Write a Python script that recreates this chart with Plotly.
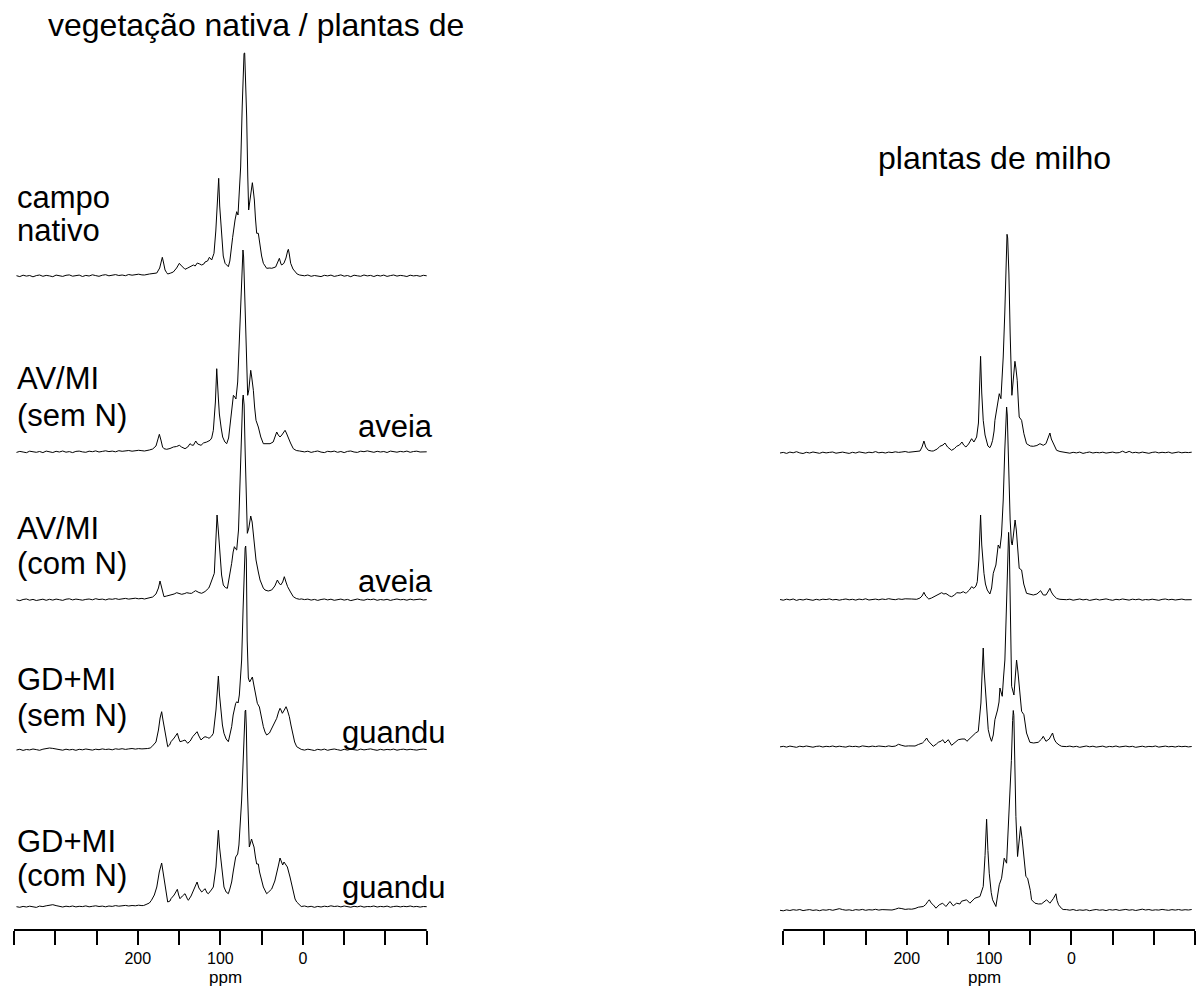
import plotly.graph_objects as go

FIG_W, FIG_H = 1202, 992
FONT = "Liberation Sans, Arial, Helvetica, sans-serif"

# ---------------- data (ppm, intensity, px units) ----------------
L_HEAD_PPM = [347, 343, 339, 335, 331, 327, 323, 319, 315, 311, 307, 303, 299, 295,
              291, 287, 283, 279, 275, 271, 267, 263, 259, 255, 251, 247, 243, 239,
              235, 231, 227, 223, 219, 215, 211, 207, 203, 199, 195]
L_TAIL_PPM = [2, -2, -6, -10, -14, -18, -22, -26, -30, -34, -38, -42, -46, -50,
              -54, -58, -62, -66, -70, -74, -78, -82, -86, -90, -94, -98, -102, -106,
              -110, -114, -118, -122, -126, -130, -134, -138, -142, -146, -150]
R_HEAD_PPM = [354, 350, 346, 342, 338, 334, 330, 326, 322, 318, 314, 310, 306, 302,
              298, 294, 290, 286, 282, 278, 274, 270, 266, 262, 258, 254, 250, 246,
              242, 238, 234, 230, 226, 222, 218, 214, 210, 206, 202, 198, 194]
R_TAIL_PPM = [6, 2, -2, -6, -10, -14, -18, -22, -26, -30, -34, -38, -42, -46,
              -50, -54, -58, -62, -66, -70, -74, -78, -82, -86, -90, -94, -98, -102,
              -106, -110, -114, -118, -122, -126, -130, -134, -138, -142, -146]

# left panel: vegetação nativa / plantas de ...
L1_HEAD = [0.3, -0.6, 0.8, -0.1, 0.5, -0.8, 0.4, 1.0, -0.3, 0.6,
           0.1, -0.7, 0.9, 0.2, -0.4, 0.7, 1.1, -0.2, 0.3, 0.9,
           -0.5, 0.6, 0.0, 1.2, 0.4, -0.3, 0.8, 1.3, 0.2, 0.7,
           1.4, 0.5, 1.0, 0.3, 1.5, 0.8, 1.2, 1.8, 1.1]
L1_PEAKS = [(192, 1), (186, 2), (183, 2.5), (177, 3), (173.5, 8), (171.5, 15), (170.3, 18.7),
            (169, 14), (167, 6), (165, 3.3), (163.8, 2), (160, 3), (157, 4), (153, 8),
            (151.5, 11), (149.7, 12.7), (148, 11), (145.6, 9), (142.8, 6.7), (139.5, 8),
            (136.8, 9), (132.7, 11), (130.5, 10), (127.9, 13), (125, 12), (122.6, 11),
            (120, 12), (118.6, 14), (115.5, 15), (113.3, 18.7), (110.5, 16), (107.7, 22.7),
            (105.5, 45), (103.5, 85), (102, 97.7), (100.8, 70), (98.4, 36), (96.5, 20),
            (94.3, 12.7), (92, 10), (90.3, 9.3), (88.5, 15), (87.5, 22.7), (85.1, 38.7),
            (82.2, 56), (80.2, 64.3), (78.6, 61), (77, 80), (75.4, 109), (73.5, 170),
            (72, 215), (71.3, 222.7), (70.5, 223), (69.5, 200), (68.1, 159), (66.8, 100),
            (65.7, 66), (64.1, 76), (62.5, 88), (61.2, 93.3), (60, 85), (58.8, 76),
            (57.5, 58), (56, 42.7), (54, 42.7), (52, 29), (50, 20), (47.9, 12.7),
            (43.9, 7.7), (40, 8), (37.8, 7.7), (33, 9), (30.5, 14), (28.5, 17.7),
            (26.5, 12), (25.7, 11), (23, 12.7), (20.5, 18), (18.5, 25), (17.6, 26.7),
            (16.5, 22), (14.8, 12.7), (12, 7), (9.5, 4.3), (7, 2), (4, 1)]
L1_TAIL = [0.9, 0.2, 1.0, -0.3, 0.5, 0.0, -0.6, 0.7, 0.1, 0.9,
           -0.4, 0.3, 1.1, -0.2, 0.5, -0.7, 0.8, 0.2, -0.3, 1.0,
           0.1, 0.6, -0.5, 0.7, 0.0, 0.9, -0.4, 0.4, 1.0, -0.1,
           0.6, 0.2, -0.5, 0.8, 0.1, 0.5, -0.3, 0.7, 0.2]

L2_HEAD = [-0.4, 0.6, 0.0, -0.7, 0.8, 0.1, -0.3, 0.5, -0.6, 0.9,
           0.2, -0.5, 0.7, 0.0, 1.0, -0.2, 0.4, -0.6, 0.6, 0.9,
           0.1, -0.3, 0.8, 0.3, 1.1, 0.0, 0.6, 1.2, 0.4, 0.9,
           0.2, 1.3, 0.7, 1.0, 1.5, 0.8, 1.2, 1.7, 1.3]
L2_PEAKS = [(192, 1), (186, 2), (182, 3), (178, 6), (175.5, 12), (173.9, 17.7), (172, 12),
            (170, 5), (168.3, 3.3), (165, 2.7), (161, 3.5), (156.9, 5), (153, 5.5),
            (149.7, 6.7), (147, 5), (142.8, 3.3), (139.5, 5), (136.8, 8.3), (134.7, 7),
            (132.7, 6.7), (129.8, 11), (127.5, 8), (123.4, 6.7), (120.5, 9), (116.5, 10),
            (112.5, 11.7), (110.5, 14), (108.5, 21.7), (106, 50), (104.4, 83.3),
            (102.5, 55), (101.2, 38), (99, 24), (97.2, 15), (94.5, 10), (92.3, 8.3),
            (90, 14), (88.3, 28), (86.3, 45), (84.2, 56.7), (82.5, 55), (81.1, 53),
            (79, 70), (77, 110), (75, 160), (73.5, 195), (72.6, 202), (71.8, 195),
            (70.5, 150), (69, 100), (67.5, 65), (66.9, 56.7), (65.5, 62), (64.2, 75),
            (63.2, 81.7), (62, 75), (60, 61.7), (58.5, 45), (56.8, 31.7), (54, 25),
            (51, 15), (47.9, 8.3), (43, 8), (39.8, 8.3), (36, 10), (33.5, 16), (31.7, 20),
            (29.8, 17), (27.7, 15), (25.5, 17), (23.5, 20), (21.6, 21.7), (20, 19),
            (17.6, 15), (15, 9), (11.6, 3.3), (8, 1.5), (4, 1)]
L2_TAIL = [0.7, 0.1, 0.8, -0.4, 0.4, 1.0, -0.1, -0.6, 0.7, 0.2,
           0.9, -0.3, 0.5, -0.6, 0.6, 1.0, 0.0, -0.4, 0.8, 0.3,
           1.1, 0.2, -0.3, 0.7, 0.0, 0.5, -0.5, 0.9, 0.3, -0.2,
           0.6, 0.1, 0.9, -0.3, 0.5, 0.8, 0.0, 0.4, 0.2]

L3_HEAD = [0.2, -0.7, 0.5, 1.0, -0.2, 0.6, -0.5, 0.3, 0.8, -0.3,
           0.7, -0.1, 0.9, 0.3, -0.4, 0.8, 1.2, 0.1, 0.9, 0.4,
           -0.2, 0.6, 1.0, 0.2, 1.3, 0.5, 0.9, 0.1, 1.1, 0.7,
           1.4, 0.6, 1.2, 1.6, 0.9, 1.3, 1.8, 1.2, 1.6]
L3_PEAKS = [(192, 1), (186, 2), (182, 3), (178, 6), (175, 12), (173.1, 19), (171.5, 13),
            (169, 5), (168.3, 3.3), (165, 4), (160, 5), (156, 6), (152.9, 7.3), (149, 6),
            (146.8, 5.7), (143, 6.5), (140.8, 7.3), (137, 6.7), (134.7, 6.7), (132.5, 8),
            (130, 9.3), (126, 7.5), (122.6, 6.7), (118.5, 8.5), (116.6, 10), (114, 12),
            (112.5, 15), (110.5, 20), (107.3, 26.7), (106, 50), (104, 85), (102.5, 70),
            (100.4, 46.7), (98.5, 25), (96.4, 15), (94, 12.5), (91.5, 11.7), (89.5, 20),
            (86.3, 36.7), (84.5, 48), (83, 53.3), (81.5, 51), (80.2, 50), (78, 70),
            (76.2, 120), (74.5, 170), (73, 200), (72.3, 205), (71.2, 195), (70, 150),
            (68.5, 95), (67.3, 66.7), (65.5, 72), (64, 80), (63.2, 84), (61.5, 78),
            (60, 66.7), (58.5, 52), (56.8, 40), (54, 28), (51.9, 20), (48, 12),
            (45.9, 10), (42, 9), (37.8, 10), (34, 14), (30.9, 20), (29, 17), (26.9, 15),
            (24.5, 18), (22.5, 23.3), (20.5, 18), (18.5, 13.3), (15, 8), (11.6, 3.3),
            (8, 1.5), (4, 0.7)]
L3_TAIL = [1.1, 0.4, 0.9, -0.1, 0.6, -0.4, 0.5, 1.0, 0.1, 0.8,
           -0.3, 0.4, 0.9, -0.1, 0.6, -0.6, 0.3, 1.0, 0.2, -0.2,
           0.8, 0.3, 0.9, -0.3, 0.5, 0.0, 0.7, -0.4, 0.4, 1.0,
           0.2, 0.6, -0.2, 0.8, 0.1, 0.5, 0.9, 0.0, 0.4]

L4_HEAD = [0.0, 0.7, -0.4, 0.5, 0.1, 1.0, 0.4, -0.3, 0.8, 1.5,
           2.0, 1.6, 0.9, 0.3, -0.2, 0.8, 0.1, 0.6, -0.3, 0.7,
           0.2, 1.0, 0.4, -0.1, 0.8, 0.3, 1.1, 0.5, 0.9, 0.2,
           1.2, 0.7, 1.3, 0.6, 1.1, 1.5, 0.9, 1.4, 1.1]
L4_PEAKS = [(192, 1), (188, 1.5), (185, 2), (183, 3.3), (178, 8), (175, 20), (173, 32),
            (171.1, 38.3), (169.5, 30), (167, 16.7), (165.5, 8), (163.8, 3.3),
            (161.5, 5), (159.8, 8.3), (156, 12), (152.1, 16.7), (150.5, 12), (148.9, 8.3),
            (146, 9), (142.8, 10), (139.6, 6.7), (136.5, 9), (133.5, 13.3), (130.5, 16),
            (128.2, 18.3), (126, 14), (123.4, 10), (121, 12), (118.6, 13.3), (115.5, 12.5),
            (113.7, 11.7), (110.5, 14), (108.5, 16.7), (105.3, 40), (104, 60),
            (102.4, 74), (101, 55), (99.6, 43), (97.5, 25), (95.6, 16.7), (93, 11),
            (90.3, 8.3), (88.5, 14), (86.3, 23.3), (84.5, 35), (81.4, 46.7), (80, 48.3),
            (78.5, 47), (77, 55), (74.2, 90), (72.5, 140), (71, 185), (70, 202),
            (69.3, 204), (68.5, 190), (67.5, 110), (66.1, 72), (64.5, 68), (63, 71),
            (61.2, 73), (59.2, 64), (58, 58), (56.5, 52), (55.2, 46.7), (52.7, 43),
            (50.5, 33), (47.9, 23.3), (45.9, 18), (43.9, 15), (40.5, 17), (37.8, 21.7),
            (34, 27), (31.7, 31.7), (29.5, 38), (27.7, 41.7), (26.5, 40), (24.9, 36.7),
            (22.5, 40), (20.4, 43.3), (18.8, 40), (16.4, 33.3), (14.5, 25), (12.4, 16.7),
            (10, 8), (7.5, 3.3), (4, 1)]
L4_TAIL = [0.6, -0.1, 0.8, 0.2, -0.5, 0.7, 0.0, 0.9, -0.3, 0.5,
           1.0, 0.3, -0.4, 0.7, -0.1, 0.8, 0.4, -0.2, 0.9, 0.1,
           0.6, 1.1, 0.3, -0.3, 0.7, 0.0, 0.6, 0.2, 0.9, -0.2,
           0.5, 0.8, 0.1, 0.7, 0.3, -0.1, 0.6, 0.9, 0.4]

L5_HEAD = [0.3, -0.3, 0.6, 0.0, 0.8, 0.2, -0.4, 0.9, 0.4, 1.2,
           2.1, 2.3, 1.4, 0.6, 0.0, 0.8, 0.3, 1.0, 0.1, 0.7,
           0.4, 1.1, 0.2, 0.7, 1.2, 0.5, 0.9, 0.2, 1.0, 0.6,
           1.4, 0.8, 1.2, 1.6, 1.0, 1.5, 1.2, 1.8, 1.4]
L5_PEAKS = [(193, 1.5), (190, 2.5), (186, 4), (183.5, 6.7), (180, 12), (177, 20), (174, 35),
            (171.1, 44), (169, 32), (167, 20), (165.5, 10), (163.8, 5), (161, 6),
            (159.8, 8.3), (156, 12), (152.1, 17.7), (150.5, 12), (148.9, 8.3), (146, 11),
            (142.8, 13.3), (139.6, 7.5), (138.8, 6.7), (135.5, 11), (133.5, 15),
            (130.5, 20), (128.2, 25), (126, 19), (122.6, 15), (120, 17), (118.6, 18.3),
            (116, 14), (114.5, 13.3), (111, 17), (108.5, 20), (105.3, 40), (103.8, 62),
            (102.4, 76.7), (101, 60), (99.6, 50), (97.5, 32), (95.6, 20), (93, 15),
            (90.3, 13.3), (88.5, 18), (86.3, 25), (84.5, 35), (81.4, 50), (79, 53),
            (77.5, 62), (74.2, 107), (72.5, 150), (71, 185), (70, 196), (69.3, 197),
            (68.5, 180), (67.3, 120), (66, 75), (64.9, 60), (63.2, 65), (62.2, 68),
            (60.8, 64), (59.2, 60), (57.5, 50), (56, 43), (54, 43), (52.5, 35),
            (47.9, 20), (43.9, 13.3), (41.5, 15), (37.8, 18), (34, 26), (31.7, 33),
            (29.5, 42), (27.7, 49), (26, 45), (24.5, 42), (22.9, 45), (21.6, 43),
            (20.4, 41), (18.8, 40), (15.6, 30), (13.5, 22), (11.6, 13.3), (9.5, 8),
            (7.5, 5), (4, 2)]
L5_TAIL = [0.5, 1.0, 0.1, 0.7, -0.3, 0.6, 0.0, 0.8, 0.3, 1.2,
           0.5, 0.9, 0.1, 1.0, 0.4, -0.2, 0.7, 0.2, 0.9, -0.1,
           0.5, 0.3, 1.0, 0.0, 0.6, 0.2, 0.9, -0.2, 0.5, 0.8,
           0.1, 0.7, 0.3, 1.0, 0.2, 0.6, -0.1, 0.5, 0.3]

# right panel: plantas de milho
R1_HEAD = [0.0, 0.6, -0.4, 0.9, 0.2, 1.3, 0.1, -0.5, 0.7, 0.0,
           1.0, 0.3, -0.3, 0.8, 0.1, 0.6, 1.0, -0.2, 0.5, 0.9,
           0.2, -0.4, 0.7, 0.0, 1.1, 0.4, -0.1, 0.8, 0.3, 1.4,
           0.2, 0.7, 0.0, 0.9, 0.4, 1.2, 0.6, 1.0, 1.5, 0.7, 1.1]
R1_PEAKS = [(188, 1), (184, 2), (181.5, 6), (179.2, 12), (177, 6), (173.9, 2.7), (170, 2),
            (167.9, 2), (163, 4), (159.8, 6.7), (156, 8), (153.7, 10), (150.5, 6),
            (145.6, 2.7), (142, 4.5), (139.5, 6.7), (136, 8), (133, 11), (131, 8),
            (128.2, 6), (125, 9), (121.3, 14.3), (118.5, 11), (115.2, 16), (113, 30),
            (111.5, 70), (110.4, 96.7), (109, 60), (107.2, 32.7), (105, 18), (103.1, 12.7),
            (101.5, 7), (99.1, 5.3), (97.5, 8), (95.8, 12.7), (94, 22), (93, 32.7),
            (90.5, 45), (89.8, 49.3), (87.7, 59.3), (85.7, 54.3), (84.5, 70), (82.9, 96),
            (81, 140), (79.5, 190), (78.3, 218.7), (77.5, 215), (76, 179), (74.5, 120),
            (72.4, 57.7), (70.5, 75), (68.7, 91.7), (67.5, 85), (65.9, 72.7), (64.5, 50),
            (63.5, 36), (60.6, 32.7), (57.8, 19.3), (54.6, 9.3), (50, 7), (46.4, 6.7),
            (42, 7.5), (38.3, 9.3), (34.3, 7.7), (31, 9.3), (28.5, 15), (26.2, 20),
            (24.5, 14), (23, 11), (20, 5), (18.1, 2.7), (14, 1.5), (10.1, 0.7)]
R1_TAIL = [0.4, -0.2, 0.7, 0.1, 0.9, -0.4, 0.4, 1.0, 0.0, 0.6,
           0.2, 0.8, -0.1, 0.5, 0.9, 0.1, 0.4, 1.8, 0.3, 1.6,
           0.2, 0.7, 0.0, 0.9, 0.3, -0.3, 0.6, 1.0, 0.1, 0.7,
           0.3, 0.9, -0.2, 0.5, 1.0, 0.2, 0.7, 0.4, 0.8]

R2_HEAD = [0.5, -0.2, 0.8, 0.1, 1.0, -0.4, 0.6, 0.0, 0.9, 0.3,
           -0.3, 0.7, 0.0, 0.8, 0.4, 1.1, 0.1, 0.6, -0.2, 0.5,
           1.0, 0.2, 0.7, -0.1, 0.9, 0.3, 1.2, 0.0, 0.6, 0.9,
           0.2, 1.0, 0.5, 1.3, 0.7, 0.3, 1.1, 0.6, 1.2, 0.8, 1.0]
R2_PEAKS = [(188, 0.7), (184, 2), (181.5, 4), (179.2, 7.7), (177, 4), (173.3, 1), (170, 2),
            (167.1, 3.3), (162, 5), (157.7, 7.3), (155, 6), (152.5, 6.5), (148, 4),
            (145.6, 3.3), (142, 5), (139.5, 7.3), (135, 7), (131.4, 8.3), (129, 7),
            (127.4, 7.3), (124, 10), (121.3, 13.3), (118.5, 11.7), (116, 14),
            (114.4, 18.3), (112.5, 40), (110.4, 85), (109, 55), (106.3, 26.7), (104.5, 16),
            (102.3, 10), (99.1, 6), (97, 12), (95, 26.7), (93, 32), (91.8, 35), (89, 55),
            (87.5, 52), (86.9, 51.7), (85, 65), (82.9, 100), (81, 150), (79.5, 185),
            (78.8, 193), (78, 185), (76.5, 130), (74.5, 80), (73, 58), (72, 55),
            (70.5, 65), (69, 79), (68.5, 80), (67, 70), (65, 45), (63.5, 31.7),
            (60.6, 30), (58, 16), (54.6, 6.7), (50, 6), (46.4, 5), (42, 6), (37.5, 9.3),
            (34.3, 5), (31, 5), (28, 9), (26.2, 11.7), (24.5, 8), (22.2, 5), (18, 1.5),
            (14, 0.7)]
R2_TAIL = [0.3, 0.8, -0.2, 0.6, 1.0, 0.1, 0.7, -0.4, 0.4, 0.9,
           0.0, 0.6, 1.1, 0.3, -0.3, 0.7, 0.2, 1.0, 0.4, -0.1,
           0.8, 0.3, 0.9, -0.2, 0.5, 0.1, 0.8, 0.3, -0.3, 0.6,
           1.0, 0.2, 0.7, 0.0, 0.5, 0.9, 0.2, 0.6, 0.3]

R3_HEAD = [0.1, 0.7, -0.1, 0.9, 0.3, -0.3, 0.8, 0.2, 1.0, 0.4,
           -0.2, 0.6, 0.9, 0.0, 0.7, 0.3, 1.0, 0.1, 0.8, 0.3,
           -0.1, 0.9, 0.4, 0.7, 0.0, 1.1, 0.5, 0.2, 0.9, 0.4,
           1.0, 0.6, 0.3, 1.1, 0.5, 0.9, 2.7, 1.6, 0.8, 1.1, 0.7]
R3_PEAKS = [(190, 1), (186, 2.5), (181, 4), (178.5, 6), (175.9, 9), (173.9, 6), (171.9, 4),
            (167.9, 0.7), (164, 3), (161.8, 4.7), (158, 6), (156.5, 7.3), (153.7, 4),
            (149.6, 7.3), (145.6, 1.7), (141, 5), (137.5, 7.3), (133, 8), (129.4, 8),
            (127, 5.7), (124, 8), (119.3, 12.3), (116.5, 14), (113.2, 15.7), (110, 44),
            (108.5, 75), (107.2, 99), (106, 75), (104, 47), (101.1, 17.3), (99, 10),
            (97.1, 5.7), (95, 12), (93, 27.3), (89.8, 37), (88, 45), (86.9, 59),
            (85.5, 55), (84.1, 50.7), (82.5, 70), (80.9, 87), (79, 140), (77.5, 195),
            (76.4, 214.6), (75.5, 200), (74, 130), (72.7, 60.7), (69.9, 52), (68, 70),
            (66.7, 87), (65, 75), (63.5, 60.7), (60.6, 35.7), (57.8, 32.3), (54.6, 14),
            (50.5, 4.7), (46, 4), (40.4, 4.7), (36.3, 8), (34.3, 10.7), (31, 5.7),
            (27, 8), (24.5, 12), (23, 14), (21, 8), (18.9, 4.7), (15, 2), (12, 0.7)]
R3_TAIL = [0.4, 0.9, 0.1, 0.7, -0.3, 0.5, 1.0, 0.2, 0.8, -0.1,
           0.4, 0.9, -0.2, 0.6, 0.2, 1.0, 0.0, 0.5, 0.9, 0.2,
           0.7, -0.3, 0.4, 0.8, 0.0, 0.6, 0.3, 1.0, -0.1, 0.5,
           0.9, 0.2, 0.6, 0.0, 0.8, 0.3, 0.7, 0.1, 0.5]

R4_HEAD = [0.2, -0.3, 0.6, 0.0, 0.8, 0.3, 1.0, -0.1, 0.5, 0.9,
           0.1, 0.6, -0.2, 0.7, 0.3, 1.0, 0.2, 0.8, 1.8, 0.9,
           0.3, 0.7, 0.0, 0.9, 0.4, 1.1, 0.2, 0.8, 0.5, 1.2,
           0.4, 0.9, 0.6, 1.0, 0.5, 1.3, 2.4, 1.9, 1.1, 1.5, 1.3]
R4_PEAKS = [(190, 2), (186, 3.3), (180, 4), (177, 6), (174.5, 9), (172.7, 10.7), (170, 7),
            (167.9, 5.7), (164.6, 2.3), (160.6, 5.7), (156.5, 7.3), (152.5, 4),
            (147.6, 9), (143.6, 4.7), (139.5, 7.3), (135.5, 6.5), (133.5, 9.3),
            (127.4, 10.7), (123.4, 7.3), (117.3, 12.3), (111.2, 14), (107.2, 24),
            (105, 55), (103.1, 91.3), (101.5, 60), (99.9, 37.3), (97.5, 18), (95.8, 10.7),
            (91.8, 4), (87.7, 25.7), (84.9, 32.3), (81.7, 52.3), (78.8, 47.3), (77, 80),
            (75.6, 94), (73, 150), (71.5, 190), (70.7, 200), (70, 195), (69, 150),
            (67.5, 94), (65.5, 54), (63, 78), (61.8, 84), (60, 72), (58.6, 60.7),
            (56, 40), (55.4, 34), (53.3, 32.3), (50, 20), (48.5, 10.7), (44.4, 7.3),
            (40, 6.5), (36.3, 6.7), (30.2, 10.7), (26.2, 7.3), (22, 12), (18.9, 16.7),
            (17.5, 10), (15.7, 5.7), (12, 2), (10.1, 1)]
R4_TAIL = [0.9, 0.3, 1.0, 0.0, 0.6, 0.2, 0.8, -0.2, 0.5, 1.0,
           0.3, 0.7, -0.1, 0.9, 0.4, 1.0, 0.1, 0.6, 1.1, 0.3,
           0.8, 0.0, 0.9, 1.3, 0.5, 1.0, 0.2, 0.7, 0.4, 1.1,
           0.6, 0.2, 0.9, 0.4, 1.0, 0.3, 0.8, 0.5, 1.0]

TICK_VALS = [350, 300, 250, 200, 150, 100, 50, 0, -50, -100, -150]
TICK_TEXT = ["", "", "", "200", "", "100", "", "0", "", "", ""]

LEFT_TITLE = "vegetação nativa / plantas de"
RIGHT_TITLE = "plantas de milho"
LEFT_LABELS = [("campo", 208), ("nativo", 241), ("AV/MI", 389), ("(sem N)", 426),
               ("AV/MI", 539), ("(com N)", 574), ("GD+MI", 690), ("(sem N)", 726),
               ("GD+MI", 852), ("(com N)", 886)]
RIGHT_LABELS = [("aveia", 437, 435), ("aveia", 592, 435),
                ("guandu", 743, 447), ("guandu", 898, 447)]

# ---------------- layout geometry (pixels) ----------------
LEFT_SPECTRA = [(L1_HEAD, L1_PEAKS, L1_TAIL), (L2_HEAD, L2_PEAKS, L2_TAIL),
                (L3_HEAD, L3_PEAKS, L3_TAIL), (L4_HEAD, L4_PEAKS, L4_TAIL),
                (L5_HEAD, L5_PEAKS, L5_TAIL)]
RIGHT_SPECTRA = [(R1_HEAD, R1_PEAKS, R1_TAIL), (R2_HEAD, R2_PEAKS, R2_TAIL),
                 (R3_HEAD, R3_PEAKS, R3_TAIL), (R4_HEAD, R4_PEAKS, R4_TAIL)]
LEFT_BASE_PX = [276, 452, 600, 750, 907]
RIGHT_BASE_PX = [453, 600, 747, 910.5]

AXIS_Y_PX = 930
L_AX = (14.0, 426.7)     # pixel x of 350 and -150 ppm
R_AX = (783.3, 1195.0)
X_RANGE = [357, -151]
TITLE_SIZE, LABEL_SIZE = 32, 31


def domain_for(ax):
    s = (ax[1] - ax[0]) / 500.0
    x0 = ax[0] - (X_RANGE[0] - 350) * s
    x1 = ax[1] + (-150 - X_RANGE[1]) * s
    return [x0 / FIG_W, x1 / FIG_W]


def build(head_ppm, head, peaks, tail_ppm, tail):
    xs, ys = [], []
    for p, v in zip(head_ppm, head):
        xs.append(p); ys.append(v)
    for p, v in peaks:
        xs.append(p); ys.append(v)
    for p, v in zip(tail_ppm, tail):
        xs.append(p); ys.append(v)
    return xs, ys


fig = go.Figure()
for (head, peaks, tail), base_px in zip(LEFT_SPECTRA, LEFT_BASE_PX):
    xs, ys = build(L_HEAD_PPM, head, peaks, L_TAIL_PPM, tail)
    off = FIG_H - base_px
    fig.add_trace(go.Scatter(x=xs, y=[off + v for v in ys], mode="lines",
                             line=dict(color="black", width=1), xaxis="x", yaxis="y",
                             showlegend=False, hoverinfo="skip"))
for (head, peaks, tail), base_px in zip(RIGHT_SPECTRA, RIGHT_BASE_PX):
    xs, ys = build(R_HEAD_PPM, head, peaks, R_TAIL_PPM, tail)
    off = FIG_H - base_px
    fig.add_trace(go.Scatter(x=xs, y=[off + v for v in ys], mode="lines",
                             line=dict(color="black", width=1), xaxis="x2", yaxis="y",
                             showlegend=False, hoverinfo="skip"))

xaxis_common = dict(range=X_RANGE, showgrid=False, zeroline=False, showline=False,
                    tickmode="array", tickvals=TICK_VALS, ticktext=TICK_TEXT,
                    ticks="outside", ticklen=14, tickwidth=2, tickcolor="black",
                    tickfont=dict(family=FONT, size=16, color="black"),
                    fixedrange=True)

ann = []


def text_ann(text, x_px, baseline_px, size, xanchor):
    return dict(text=text, x=x_px / FIG_W, y=1 - (baseline_px - 0.3465 * size) / FIG_H,
                xref="paper", yref="paper", xanchor=xanchor, yanchor="middle",
                showarrow=False, font=dict(family=FONT, size=size, color="black"))


ann.append(text_ann(LEFT_TITLE, 255.5, 36, TITLE_SIZE, "center"))
ann.append(text_ann(RIGHT_TITLE, 994, 169, TITLE_SIZE, "center"))
for t, b in LEFT_LABELS:
    ann.append(text_ann(t, 15, b, LABEL_SIZE, "left"))
for t, b, xr in RIGHT_LABELS:
    ann.append(text_ann(t, xr, b, LABEL_SIZE, "right"))
ann.append(text_ann("ppm", 225.5, 983, 17, "center"))
ann.append(text_ann("ppm", 984, 983, 17, "center"))

shapes = []
for ax in (L_AX, R_AX):
    shapes.append(dict(type="line", xref="paper", yref="paper",
                       x0=ax[0] / FIG_W, x1=ax[1] / FIG_W,
                       y0=1 - AXIS_Y_PX / FIG_H, y1=1 - AXIS_Y_PX / FIG_H,
                       line=dict(color="black", width=2)))

fig.update_layout(
    width=FIG_W, height=FIG_H,
    margin=dict(l=0, r=0, t=0, b=0),
    paper_bgcolor="white", plot_bgcolor="white",
    xaxis=dict(domain=domain_for(L_AX), anchor="y", **xaxis_common),
    xaxis2=dict(domain=domain_for(R_AX), anchor="y", **xaxis_common),
    yaxis=dict(domain=[1 - AXIS_Y_PX / FIG_H, 1], range=[FIG_H - AXIS_Y_PX, FIG_H],
               visible=False, fixedrange=True),
    annotations=ann, shapes=shapes, showlegend=False,
)

fig.write_html("out.html")
